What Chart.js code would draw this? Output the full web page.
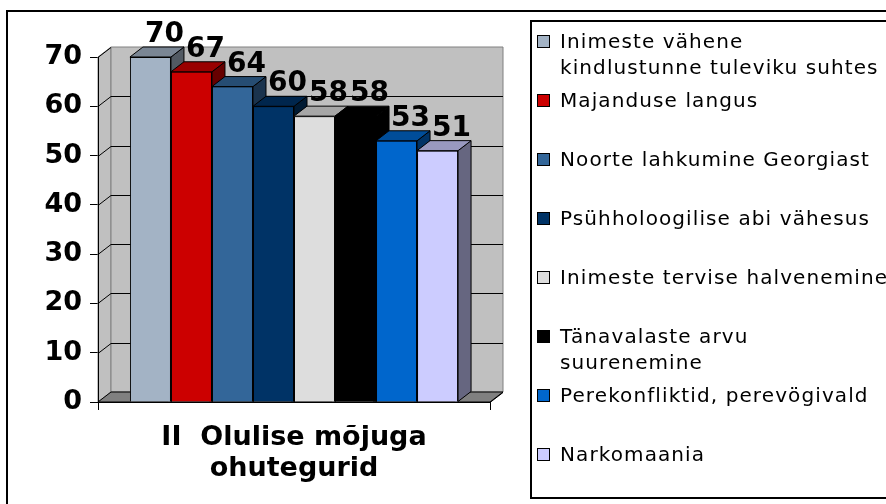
<!DOCTYPE html>
<html>
<head>
<meta charset="utf-8">
<script src="https://cdn.jsdelivr.net/npm/chart.js@4.4.1/dist/chart.umd.min.js"></script>
<style>
  html, body { margin: 0; padding: 0; background: #fff; }
  #wrap { position: relative; width: 886px; height: 504px; overflow: hidden; }
  #frame { position: absolute; left: 6px; top: 10px; width: 900px; height: 520px; border: 2px solid #000; box-sizing: border-box; }
  #chart { position: absolute; left: 0; top: 0; }
  #legend { position: absolute; left: 530px; top: 20px; width: 380px; height: 479px; border: 2px solid #000; box-sizing: border-box; background: #fff;
            font-family: 'DejaVu Sans', Verdana, sans-serif; font-size: 20px; letter-spacing: 1.1px; color: #000; padding: 6px 0 0 5px; }
  .item { position: relative; height: 59px; padding-left: 23px; line-height: 26px; white-space: nowrap; }
  .swatch { position: absolute; left: 0; top: 7px; width: 11px; height: 11px; border: 1px solid #000; }
</style>
</head>
<body>
<div id="wrap">
  <div id="frame"></div>
  <canvas id="chart" width="886" height="504"></canvas>
  <div id="legend"></div>
</div>
<script>
// Data
const categories = [['II  Olulise mõjuga', 'ohutegurid']];
const seriesNames = [
    ['Inimeste vähene', 'kindlustunne tuleviku suhtes'],
    ['Majanduse langus'],
    ['Noorte lahkumine Georgiast'],
    ['Psühholoogilise abi vähesus'],
    ['Inimeste tervise halvenemine'],
    ['Tänavalaste arvu', 'suurenemine'],
    ['Perekonfliktid, perevögivald'],
    ['Narkomaania']
];
const seriesValues = [70, 67, 64, 60, 58, 58, 53, 51];
const seriesColors = ['#A3B3C5', '#CC0000', '#336699', '#003366', '#DDDDDD', '#000000', '#0066CC', '#CCCCFF'];
const yTicks = [0, 10, 20, 30, 40, 50, 60, 70];

const FONT = "'DejaVu Sans', Verdana, sans-serif";
const DX = 13, DY = 10; // 3D depth offset

// darken a hex colour by factor
function shade(hex, f) {
    const n = parseInt(hex.slice(1), 16);
    const r = Math.round(((n >> 16) & 255) * f);
    const g = Math.round(((n >> 8) & 255) * f);
    const b = Math.round((n & 255) * f);
    return `rgb(${r},${g},${b})`;
}

function poly(ctx, pts, fill, stroke) {
    ctx.beginPath();
    ctx.moveTo(pts[0][0], pts[0][1]);
    for (let i = 1; i < pts.length; i++) ctx.lineTo(pts[i][0], pts[i][1]);
    ctx.closePath();
    if (fill) { ctx.fillStyle = fill; ctx.fill(); }
    if (stroke) { ctx.strokeStyle = stroke; ctx.lineWidth = 1; ctx.stroke(); }
}

// Walls, floor, gridlines and the 3D faces of bars
const excel3d = {
    id: 'excel3d',
    beforeDatasetsDraw(chart) {
        const { ctx, chartArea: a, scales: { y } } = chart;
        const L = a.left, R = a.right, T = a.top, B = a.bottom;
        ctx.save();
        // side wall
        poly(ctx, [[L, B], [L, T], [L + DX, T - DY], [L + DX, B - DY]], '#C0C0C0', '#808080');
        // back wall
        poly(ctx, [[L + DX, T - DY], [R + DX, T - DY], [R + DX, B - DY], [L + DX, B - DY]], '#C0C0C0', '#808080');
        // floor
        poly(ctx, [[L, B], [R, B], [R + DX, B - DY], [L + DX, B - DY]], '#808080', '#000');
        // gridlines
        ctx.strokeStyle = '#000';
        ctx.lineWidth = 1;
        yTicks.forEach(v => {
            if (v === 0) return;
            const py = Math.round(y.getPixelForValue(v)) + 0.5;
            ctx.beginPath();
            ctx.moveTo(L, py);
            ctx.lineTo(L + DX, py - DY);
            if (v !== yTicks[yTicks.length - 1]) ctx.lineTo(R + DX, py - DY);
            ctx.stroke();
        });
        // bar side and top faces, left to right (fills reach under the front face to avoid seams)
        chart.data.datasets.forEach((ds, i) => {
            const bar = chart.getDatasetMeta(i).data[0];
            const l = bar.x - bar.width / 2, r = bar.x + bar.width / 2;
            const t = bar.y, b = bar.base;
            poly(ctx, [[r - 3, b], [r - 3, t], [r, t], [r + DX, t - DY], [r + DX, b - DY], [r, b]], shade(ds.backgroundColor, 0.5), null);
            poly(ctx, [[r, b], [r, t], [r + DX, t - DY], [r + DX, b - DY]], null, '#000');
            poly(ctx, [[l, t + 3], [r, t + 3], [r, t], [r + DX, t - DY], [l + DX, t - DY], [l, t]], shade(ds.backgroundColor, 0.75), null);
            poly(ctx, [[l, t], [r, t], [r + DX, t - DY], [l + DX, t - DY]], null, '#000');
        });
        ctx.restore();
    },
    afterDatasetsDraw(chart) {
        const { ctx, chartArea: a } = chart;
        ctx.save();
        // axis lines
        ctx.strokeStyle = '#000';
        ctx.lineWidth = 1;
        ctx.beginPath();
        ctx.moveTo(a.left + 0.5, a.top);
        ctx.lineTo(a.left + 0.5, a.bottom + 0.5);
        ctx.lineTo(a.right, a.bottom + 0.5);
        ctx.lineTo(a.right + DX, a.bottom + 0.5 - DY);
        ctx.stroke();
        // value labels
        ctx.font = `bold 28px ${FONT}`;
        ctx.fillStyle = '#000';
        ctx.textAlign = 'center';
        ctx.textBaseline = 'alphabetic';
        chart.data.datasets.forEach((ds, i) => {
            const bar = chart.getDatasetMeta(i).data[0];
            ctx.fillText(String(ds.data[0]), bar.x + 14, bar.y - 15);
        });
        ctx.restore();
    }
};

new Chart(document.getElementById('chart'), {
    type: 'bar',
    data: {
        labels: categories,
        datasets: seriesNames.map((name, i) => ({
            label: name.join(' '),
            data: [seriesValues[i]],
            backgroundColor: seriesColors[i],
            borderColor: '#000',
            borderWidth: 1,
            categoryPercentage: 0.837,
            barPercentage: 1
        }))
    },
    options: {
        responsive: false,
        animation: false,
        devicePixelRatio: 1,
        layout: { padding: { left: 0, right: 396, top: 57, bottom: 0 } },
        plugins: { legend: { display: false }, tooltip: { enabled: false } },
        scales: {
            x: {
                grid: { drawOnChartArea: false, tickLength: 8, color: '#000', offset: true },
                border: { display: false },
                ticks: { color: '#000', padding: 12, font: { family: FONT, size: 27, weight: 'bold', lineHeight: 1.15 } },
                afterFit: s => { s.height = 102; }
            },
            y: {
                min: 0, max: 70,
                afterBuildTicks: s => { s.ticks = yTicks.map(v => ({ value: v })); },
                grid: { drawOnChartArea: false, tickLength: 8, color: '#000' },
                border: { display: false },
                ticks: { color: '#000', padding: 8, font: { family: FONT, size: 27, weight: 'bold' } },
                afterFit: s => { s.width = 98; }
            }
        }
    },
    plugins: [excel3d]
});

// HTML legend
const legend = document.getElementById('legend');
seriesNames.forEach((lines, i) => {
    const item = document.createElement('div');
    item.className = 'item';
    const sw = document.createElement('span');
    sw.className = 'swatch';
    sw.style.background = seriesColors[i];
    item.appendChild(sw);
    lines.forEach(t => {
        const d = document.createElement('div');
        d.textContent = t;
        item.appendChild(d);
    });
    legend.appendChild(item);
});
</script>
</body>
</html>
